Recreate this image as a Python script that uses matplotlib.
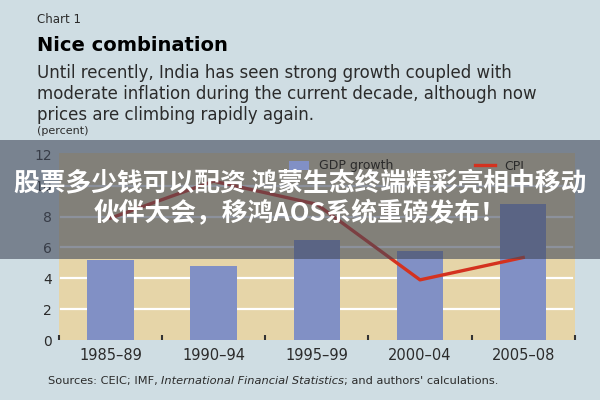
import numpy as np
import matplotlib.pyplot as plt
from matplotlib.patches import Rectangle

periods = ['1985–89', '1990–94', '1995–99', '2000–04', '2005–08']
gdp_growth = [5.2, 4.8, 6.5, 5.8, 8.8]
cpi = [7.9, 10.3, 8.8, 3.9, 5.35]
yticks = [0, 2, 4, 6, 8, 10, 12]

bg = '#cfdde3'
plot_bg = '#e6d5a8'
bar_col = '#8190c5'
line_col = '#d4321f'
txt = '#2b2b2b'

plt.rcParams['font.family'] = ['DejaVu Sans']

fig = plt.figure(figsize=(6, 4), dpi=100, facecolor=bg)
ax = fig.add_axes([0.098, 0.15, 0.86, 0.4665])
ax.set_facecolor(plot_bg)

x = np.arange(len(periods))
bars = ax.bar(x, gdp_growth, width=0.45, color=bar_col, zorder=2, label='GDP growth')
line, = ax.plot(x, cpi, color=line_col, lw=2.4, zorder=3, label='CPI')

ax.set_xlim(-0.5, len(periods) - 0.5)
ax.set_ylim(0, 12.1)
ax.set_yticks(yticks)
ax.set_yticklabels([str(v) for v in yticks], fontsize=10, color=txt)
ax.set_xticks(x)
ax.set_xticklabels(periods, fontsize=10.5, color=txt)
ax.set_xticks(np.arange(-0.5, len(periods)), minor=True)
ax.tick_params(axis='x', which='major', length=0, pad=6)
ax.tick_params(axis='x', which='minor', direction='in', length=3.5, width=1.5, color='#333333')
ax.tick_params(axis='y', length=0, pad=5)
for y in yticks[1:-1]:
    ax.axhline(y, xmin=0.005, xmax=0.995, color='white', lw=1.6, zorder=1)
for s in ax.spines.values():
    s.set_visible(False)

fig.legend(handles=[bars, line], loc='center', bbox_to_anchor=(0.678, 0.585), ncol=2,
           frameon=False, fontsize=9, handlelength=1.6, columnspacing=6.5,
           handletextpad=0.8, labelcolor=txt)

# header texts
fig.text(0.062, 0.942, 'Chart 1', fontsize=8.5, color=txt)
fig.text(0.062, 0.872, 'Nice combination', fontsize=14, fontweight='bold', color='black')
fig.text(0.062, 0.84, 'Until recently, India has seen strong growth coupled with\n'
         'moderate inflation during the current decade, although now\n'
         'prices are climbing rapidly again.',
         fontsize=12, color=txt, linespacing=1.2, va='top')
fig.text(0.062, 0.665, '(percent)', fontsize=8, color=txt)

# sources line
s1 = fig.text(0.08, 0.04, 'Sources: CEIC; IMF, ', fontsize=8.2, color=txt)
fig.canvas.draw()
r = fig.canvas.get_renderer()
bb = s1.get_window_extent(r)
s2 = fig.text(bb.x1 / fig.bbox.width, 0.04, 'International Financial Statistics',
              fontsize=8.2, color=txt, style='italic')
bb2 = s2.get_window_extent(r)
fig.text(bb2.x1 / fig.bbox.width, 0.04, "; and authors' calculations.",
         fontsize=8.2, color=txt)

# banner overlay
fig.patches.append(Rectangle((0, 1 - 259 / 400), 1, 119 / 400, transform=fig.transFigure,
                             facecolor='#40485a', alpha=0.6, zorder=5))
fig.text(0.5, 1 - 183 / 400, '股票多少钱可以配资 鸿蒙生态终端精彩亮相中移动',
         ha='center', va='center', fontsize=18.5, fontweight='bold', color='white',
         family=['Noto Sans CJK SC', 'DejaVu Sans'], zorder=6)
fig.text(0.5, 1 - 214 / 400, '伙伴大会，移鸿AOS系统重磅发布！',
         ha='center', va='center', fontsize=18.5, fontweight='bold', color='white',
         family=['Noto Sans CJK SC', 'DejaVu Sans'], zorder=6)

fig.savefig('out.png', dpi=100, facecolor=bg)
